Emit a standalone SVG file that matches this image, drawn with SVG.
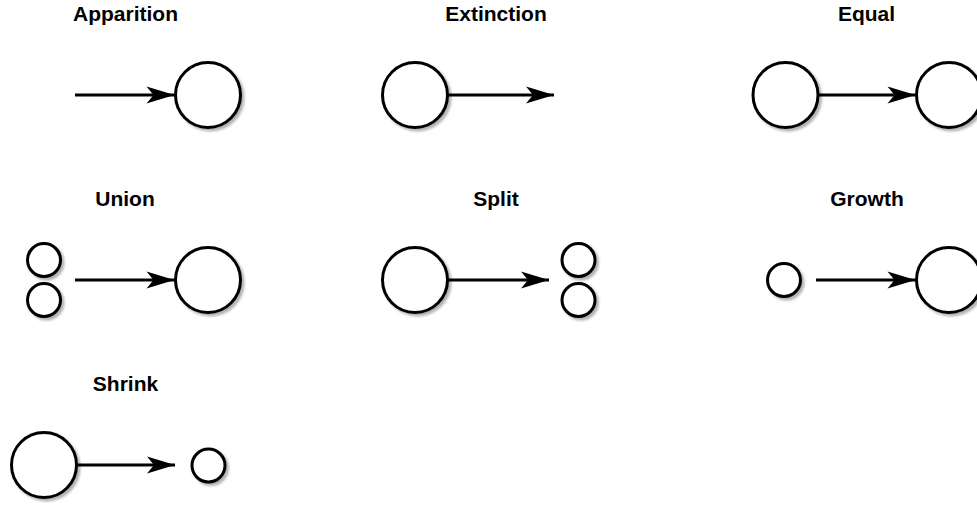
<svg xmlns="http://www.w3.org/2000/svg" width="977" height="505" viewBox="0 0 977 505">
  <defs>
    <filter id="shadow" x="-20%" y="-20%" width="150%" height="150%">
      <feDropShadow dx="2.5" dy="2.5" stdDeviation="1" flood-color="#000" flood-opacity="0.3"/>
    </filter>
    <marker id="arrow" markerUnits="userSpaceOnUse" markerWidth="30" markerHeight="20" viewBox="-29 -9 30 18" refX="0" refY="0" orient="auto">
      <path d="M0,0 L-28,-8.5 L-21,0 L-28,8.5 Z" fill="#000"/>
    </marker>
  </defs>
  <style>
    .title { font-family: "Liberation Sans", Arial, sans-serif; font-weight: bold; font-size: 21px; fill: #000; text-anchor: middle; }
    .blob { fill: #fff; stroke: #000; stroke-width: 3; filter: url(#shadow); }
    .link { stroke: #000; stroke-width: 3; fill: none; marker-end: url(#arrow); }
  </style>

  <rect width="977" height="505" fill="#fff"/>

  <!-- titles -->
  <g id="labels">
    <text class="title" x="125.5" y="21">Apparition</text>
    <text class="title" x="496" y="21">Extinction</text>
    <text class="title" x="866.5" y="21">Equal</text>
    <text class="title" x="125" y="206">Union</text>
    <text class="title" x="496" y="206">Split</text>
    <text class="title" x="867" y="206">Growth</text>
    <text class="title" x="125.5" y="391">Shrink</text>
  </g>

  <!-- communities -->
  <g id="apparition-target"><circle class="blob" cx="208" cy="95" r="32.5"/></g>
  <g id="extinction-source"><circle class="blob" cx="415" cy="95" r="32.5"/></g>
  <g id="equal-source"><circle class="blob" cx="785.5" cy="95" r="32.5"/></g>
  <g id="equal-target"><circle class="blob" cx="949" cy="95" r="32.5"/></g>

  <g id="union-source-a"><circle class="blob" cx="44" cy="260" r="16.5"/></g>
  <g id="union-source-b"><circle class="blob" cx="44" cy="300" r="16.5"/></g>
  <g id="union-target"><circle class="blob" cx="208" cy="280" r="32.5"/></g>
  <g id="split-source"><circle class="blob" cx="415" cy="280" r="32.5"/></g>
  <g id="split-target-a"><circle class="blob" cx="578.5" cy="260" r="16.5"/></g>
  <g id="split-target-b"><circle class="blob" cx="578.5" cy="300" r="16.5"/></g>
  <g id="growth-source"><circle class="blob" cx="784" cy="280" r="16.5"/></g>
  <g id="growth-target"><circle class="blob" cx="949" cy="280" r="32.5"/></g>

  <g id="shrink-source"><circle class="blob" cx="44" cy="465" r="32.5"/></g>
  <g id="shrink-target"><circle class="blob" cx="208.5" cy="465.5" r="16.5"/></g>

  <!-- transitions -->
  <g id="connectors">
    <line class="link" x1="75" y1="95" x2="174.5" y2="95"/>
    <line class="link" x1="448" y1="95" x2="554" y2="95"/>
    <line class="link" x1="819" y1="95" x2="915.5" y2="95"/>
    <line class="link" x1="75" y1="280" x2="174.5" y2="280"/>
    <line class="link" x1="448" y1="280" x2="549" y2="280"/>
    <line class="link" x1="816" y1="280" x2="915.5" y2="280"/>
    <line class="link" x1="78" y1="465" x2="175" y2="465"/>
  </g>
</svg>
